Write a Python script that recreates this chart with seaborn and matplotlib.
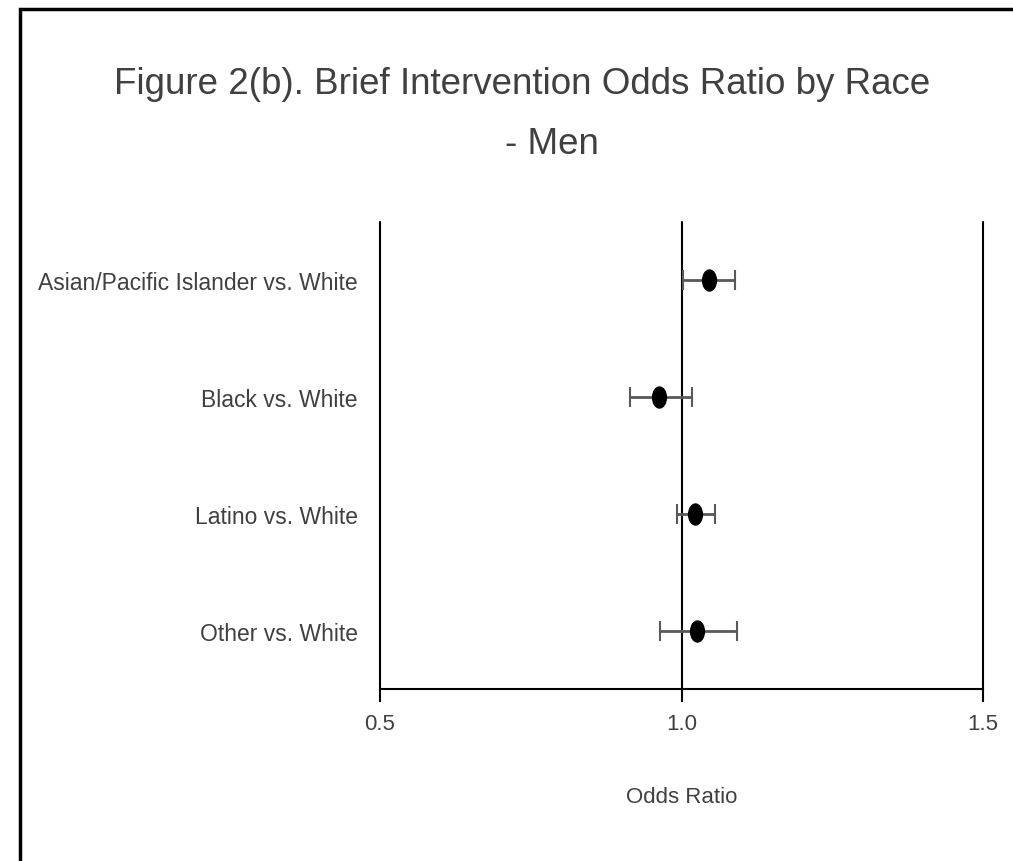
import numpy as np
import pandas as pd
import seaborn as sns
import matplotlib.pyplot as plt
from matplotlib.path import Path
from matplotlib.transforms import Affine2D
from matplotlib.patches import Rectangle

## Data
groups = ["Asian/Pacific Islander vs. White", "Black vs. White",
          "Latino vs. White", "Other vs. White"]
odds = [1.046, 0.963, 1.023, 1.026]
lower = [1.003, 0.915, 0.992, 0.964]
upper = [1.089, 1.018, 1.055, 1.092]
xticks = [0.5, 1.0, 1.5]

df = pd.DataFrame({"group": groups, "odds": odds, "lo": lower, "hi": upper})

sns.set_style("white")
plt.rcParams["font.family"] = ["Liberation Sans", "DejaVu Sans"]

fig = plt.figure(figsize=(10.13, 8.62), dpi=100)
ax = fig.add_axes([380 / 1013, 1 - 690 / 862, 603 / 1013, 467 / 862])

# error bars
ypos = np.arange(len(groups))
ax.errorbar(df["odds"], ypos,
            xerr=[df["odds"] - df["lo"], df["hi"] - df["odds"]],
            fmt="none", ecolor="#595959", elinewidth=2, capsize=7.5, capthick=1.5,
            zorder=3)

# points (slightly tall ellipse like the original)
ell = Path.unit_circle().transformed(Affine2D().scale(0.68, 1.0))
sns.scatterplot(x="odds", y=ypos, data=df, marker=ell, s=260, color="black",
                edgecolor="black", linewidth=0, zorder=4, ax=ax, legend=False)

ax.set_xlim(0.5, 1.5)
ax.set_ylim(len(groups) - 0.5, -0.5)
ax.set_xticks(xticks)
ax.set_xticklabels(["0.5", "1.0", "1.5"])
ax.set_yticks(ypos)
ax.set_yticklabels(groups)

# vertical gridlines at ticks
for x in xticks:
    ax.axvline(x, color="black", lw=1.5, zorder=1, clip_on=False)

for s in ["top", "left", "right"]:
    ax.spines[s].set_visible(False)
ax.spines["bottom"].set_color("black")
ax.spines["bottom"].set_linewidth(1.5)

ax.tick_params(axis="x", direction="out", length=9, width=1.5, color="black",
               labelsize=16, labelcolor="#404040", pad=8, bottom=True)
ax.tick_params(axis="y", length=0, labelsize=16.5, labelcolor="#404040", pad=16)
ax.set_xlabel("Odds Ratio", fontsize=16, color="#404040", labelpad=38)
ax.set_ylabel("")

fig.text(0.515, 0.902, "Figure 2(b). Brief Intervention Odds Ratio by Race",
         ha="center", va="center", fontsize=26.5, color="#404040")
fig.text(0.545, 0.832, "- Men", ha="center", va="center", fontsize=26.5, color="#404040")

# outer frame, cut by the image edges on the right and bottom
fig.patches.append(Rectangle((20 / 1013, -0.05), 1.1, 1 - 10 / 862 + 0.05,
                             transform=fig.transFigure, fill=False,
                             edgecolor="black", lw=2.5))

fig.savefig("out.png", dpi=100)
